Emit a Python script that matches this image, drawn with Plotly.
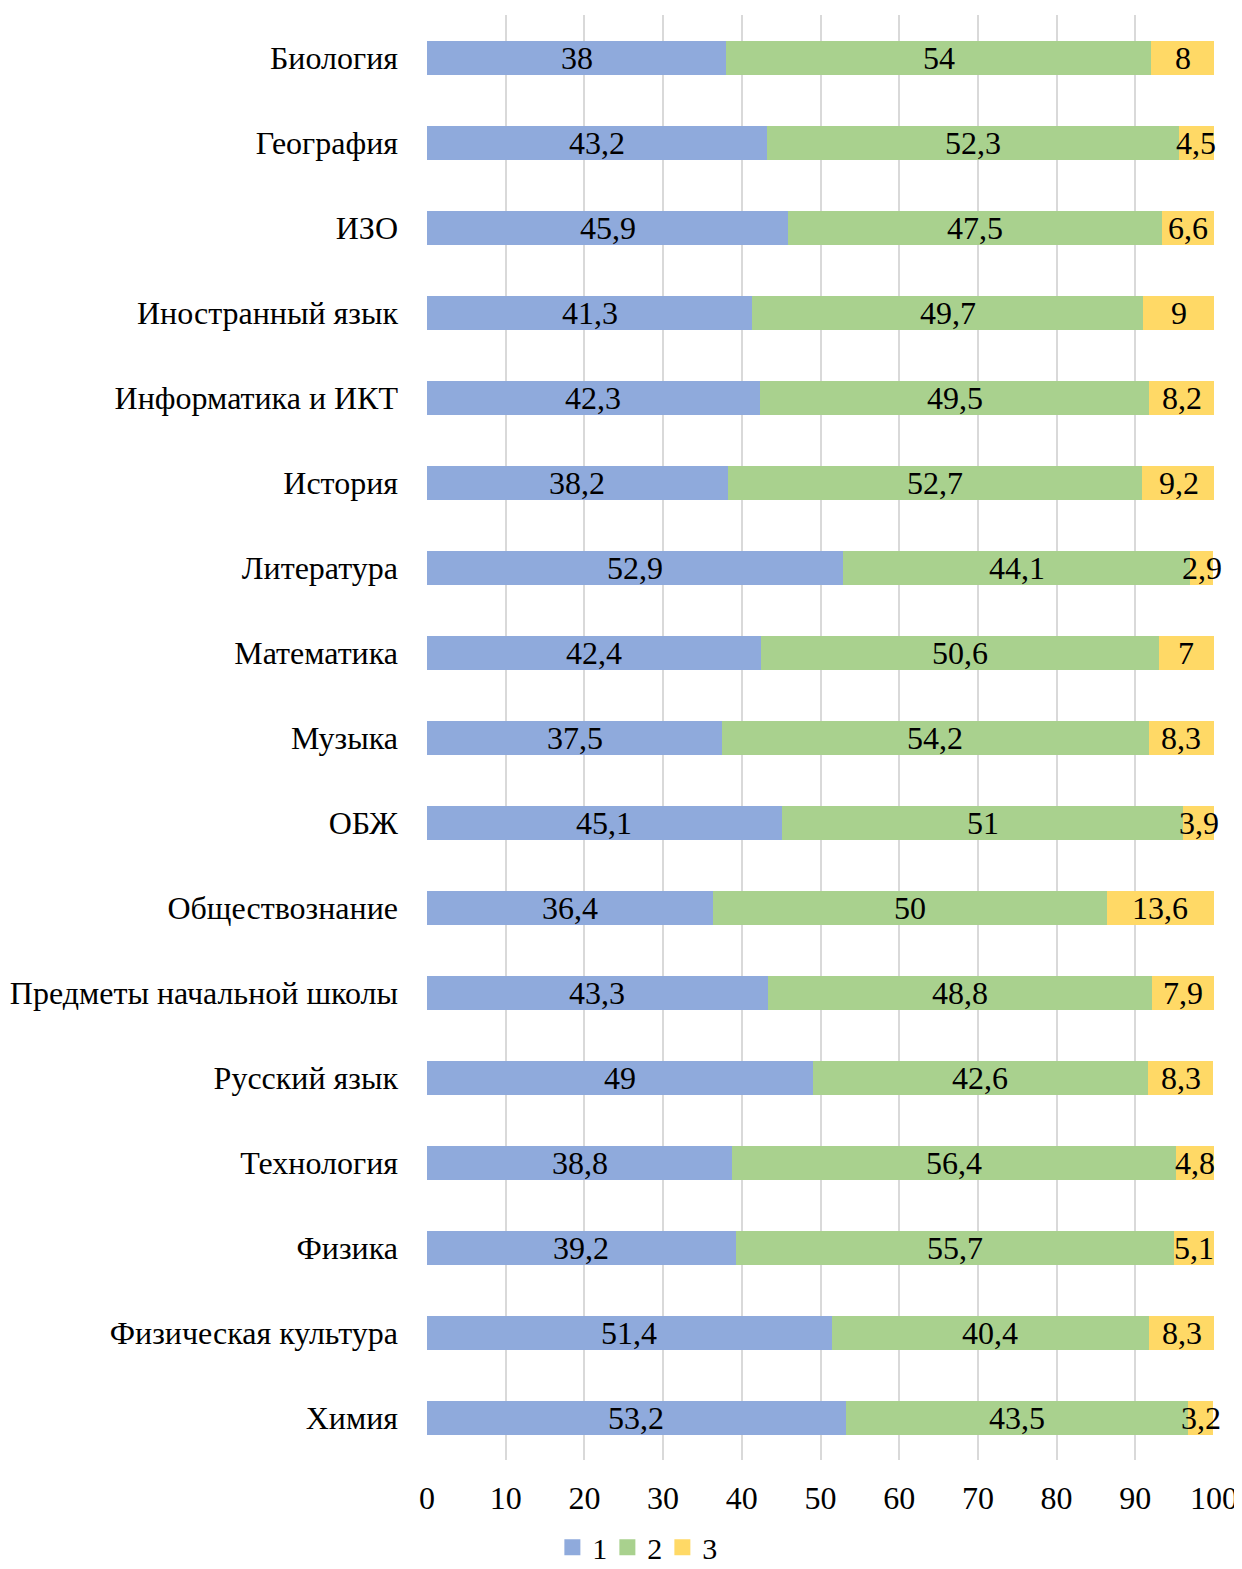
import plotly.graph_objects as go

categories = ["Биология", "География", "ИЗО", "Иностранный язык", "Информатика и ИКТ",
              "История", "Литература", "Математика", "Музыка", "ОБЖ", "Обществознание",
              "Предметы начальной школы", "Русский язык", "Технология", "Физика",
              "Физическая культура", "Химия"]
s1 = [38, 43.2, 45.9, 41.3, 42.3, 38.2, 52.9, 42.4, 37.5, 45.1, 36.4, 43.3, 49, 38.8, 39.2, 51.4, 53.2]
s2 = [54, 52.3, 47.5, 49.7, 49.5, 52.7, 44.1, 50.6, 54.2, 51, 50, 48.8, 42.6, 56.4, 55.7, 40.4, 43.5]
s3 = [8, 4.5, 6.6, 9, 8.2, 9.2, 2.9, 7, 8.3, 3.9, 13.6, 7.9, 8.3, 4.8, 5.1, 8.3, 3.2]
series_names = ["1", "2", "3"]
colors = ["#8FAADC", "#A9D18E", "#FFD966"]

FONT = "Liberation Serif, Times New Roman, serif"
FS = 32

def fmt(v):
    return ("%g" % v).replace(".", ",")

fig = go.Figure()
all_series = [s1, s2, s3]
for name, vals, col in zip(series_names, all_series, colors):
    fig.add_trace(go.Bar(
        y=categories, x=vals, name=name, orientation="h",
        marker=dict(color=col, line=dict(width=0)),
        textposition="none", hoverinfo="x+y+name", showlegend=False,
    ))
# legend entries with larger square swatches
for name, col in zip(series_names, colors):
    fig.add_trace(go.Scatter(x=[None], y=[None], mode="markers", name=name,
                             marker=dict(symbol="square", size=16, color=col),
                             showlegend=True))

# value labels centred on each segment
base = [0] * len(categories)
for vals in all_series:
    for i, (cat, v) in enumerate(zip(categories, vals)):
        fig.add_annotation(x=base[i] + v / 2, y=cat, text=fmt(v), showarrow=False,
                           xref="x", yref="y",
                           font=dict(family=FONT, size=FS, color="black"))
        base[i] += v

fig.update_layout(
    barmode="stack", bargap=0.6,
    width=1234, height=1561,
    margin=dict(l=419, r=28, t=7, b=109, autoexpand=False),
    plot_bgcolor="white", paper_bgcolor="white",
    font=dict(family=FONT, size=FS, color="black"),
    showlegend=True,
    legend=dict(orientation="h", xref="container", yref="container",
                x=0.508, xanchor="center", y=0.014, yanchor="middle",
                font=dict(family=FONT, size=30), traceorder="normal",
                entrywidth=10, entrywidthmode="pixels", itemwidth=30, tracegroupgap=0),
)
fig.update_xaxes(range=[0, 100], dtick=10, showgrid=True, gridcolor="#D9D9D9",
                 gridwidth=2, zeroline=False, showline=False, automargin=False,
                 tickfont=dict(family=FONT, size=FS), ticklabelstandoff=16)
fig.update_yaxes(autorange="reversed", showgrid=False, showline=False, automargin=False,
                 tickfont=dict(family=FONT, size=FS), ticklabelstandoff=28)

fig.write_html("out.html")
